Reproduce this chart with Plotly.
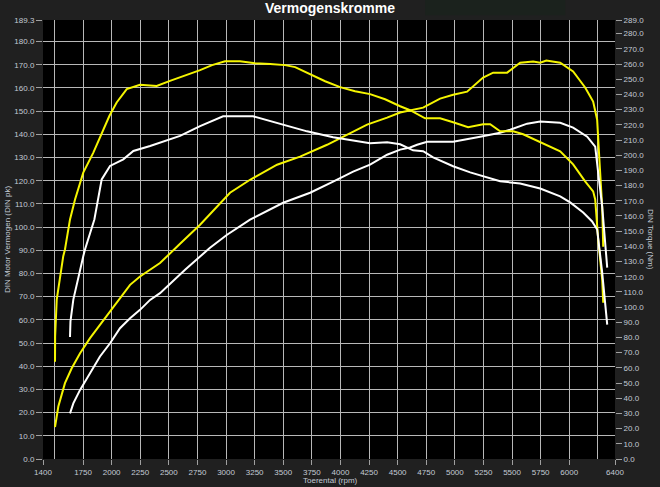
import plotly.graph_objects as go

# ---------------- data ----------------
# Yellow - power (left axis, DIN pk)
y_pow_rpm = [1505, 1534, 1592, 1651, 1724, 1811, 1898, 1986, 2088, 2161, 2248, 2336, 2423, 2598, 2773,
             3035, 3210, 3446, 3647, 3883, 4084, 4233, 4408, 4522, 4723, 4871, 4985, 5107, 5247, 5335,
             5457, 5571, 5685, 5746, 5800, 5921, 6034, 6139, 6209, 6244, 6262, 6288, 6297]
y_pow_val = [13.8, 22.6, 32.7, 39.1, 45.6, 52.1, 57.8, 63.6, 70.8, 75.1, 78.7, 81.6, 84.5, 92.8, 101.0,
             114.8, 120.4, 126.9, 130.4, 135.5, 140.7, 144.2, 147.2, 149.4, 151.5, 155.4, 157.1, 158.4, 164.5, 166.6,
             166.6, 170.9, 171.4, 170.9, 171.8, 170.9, 167.1, 160.2, 154.1, 146.3, 130.4, 108.8, 91.5]

# Yellow - torque (right axis, Nm)
y_tq_rpm = [1505, 1506, 1520, 1549, 1577, 1592, 1636, 1680, 1752, 1840, 1927, 1980, 2044, 2132, 2248,
            2394, 2510, 2598, 2685, 2773, 2878, 2991, 3122, 3253, 3385, 3516, 3604, 3735, 3866, 3997,
            4128, 4259, 4390, 4522, 4609, 4740, 4871, 4985, 5116, 5247, 5309, 5396, 5510, 5597, 5746,
            5921, 6034, 6139, 6209, 6227, 6253, 6288, 6297]
y_tq_val = [64.0, 80.7, 104.9, 120.3, 133.5, 137.9, 157.7, 170.9, 188.5, 201.7, 217.1, 225.8, 234.7, 243.5, 246.3,
            245.6, 248.9, 251.2, 253.4, 256.0, 259.3, 261.9, 261.9, 260.6, 260.0, 259.3, 258.0, 253.4, 248.7, 244.8,
            242.1, 240.2, 236.8, 232.2, 229.6, 224.3, 224.3, 221.7, 218.4, 220.4, 220.4, 215.7, 215.7, 213.8, 208.5,
            202.6, 194.0, 182.8, 176.2, 170.9, 144.5, 118.1, 102.9]

# White - power (left axis, DIN pk)
w_pow_rpm = [1636, 1665, 1724, 1811, 1898, 1986, 2073, 2161, 2248, 2336, 2423, 2642, 2860, 3009, 3210,
             3499, 3735, 3936, 4111, 4259, 4408, 4522, 4609, 4670, 4758, 4985, 5107, 5221, 5396, 5483,
             5632, 5746, 5921, 6034, 6157, 6227, 6253, 6288, 6332]
w_pow_val = [19.7, 24.0, 29.8, 37.0, 44.2, 49.9, 56.4, 60.7, 64.3, 68.6, 71.5, 81.6, 91.1, 96.7, 103.2,
             110.5, 114.8, 119.6, 123.9, 126.9, 131.2, 133.4, 134.3, 135.5, 136.8, 136.8, 138.1, 139.0, 140.7, 142.0,
             144.6, 145.5, 145.0, 142.9, 139.0, 134.7, 123.5, 108.8, 82.5]

# White - torque (right axis, Nm)
w_tq_rpm = [1636, 1640, 1665, 1709, 1752, 1767, 1849, 1913, 1986, 2102, 2190, 2336, 2423, 2598, 2773,
            2974, 3236, 3359, 3499, 3708, 3936, 4084, 4259, 4408, 4522, 4635, 4723, 4810, 4985, 5134,
            5282, 5396, 5571, 5746, 5921, 6008, 6122, 6200, 6244, 6288, 6332]
w_tq_val = [80.3, 90.6, 104.9, 120.3, 133.5, 137.9, 157.7, 184.1, 192.9, 197.3, 202.8, 206.1, 208.3, 212.7, 219.1,
            225.6, 225.6, 223.0, 219.7, 215.7, 211.8, 209.8, 207.8, 208.5, 207.2, 203.2, 202.6, 198.6, 192.7, 188.7,
            185.4, 182.8, 181.4, 178.1, 172.9, 168.9, 162.3, 156.4, 151.1, 122.7, 88.4]

# axis ticks
x_tick_vals = [1400, 1750, 2000, 2250, 2500, 2750, 3000, 3250, 3500, 3750, 4000, 4250, 4500,
               4750, 5000, 5250, 5500, 5750, 6000, 6400]
x_grid_vals = [1500, 1750, 2000, 2250, 2500, 2750, 3000, 3250, 3500, 3750, 4000, 4250, 4500,
               4750, 5000, 5250, 5500, 5750, 6000, 6250]
left_tick_vals = [0, 10, 20, 30, 40, 50, 60, 70, 80, 90, 100, 110, 120, 130, 140, 150, 160, 170, 180, 189.3]
right_tick_vals = list(range(0, 290, 10)) + [289.0]

X_RANGE = [1400, 6400]
LEFT_RANGE = [0, 189.3]
RIGHT_RANGE = [0, 289.0]

# ---------------- styling ----------------
FONT = "Liberation Sans Narrow, Liberation Sans, Arial, sans-serif"
TICK_COLOR = "#c3cad4"
GRID = "#b8b8b8"
YELLOW = "#f5f500"
WHITE = "#ffffff"

fig = go.Figure()
fig.add_trace(go.Scatter(x=y_pow_rpm, y=y_pow_val, mode="lines", line=dict(color=YELLOW, width=2),
                         yaxis="y", name="Vermogen (tuned)"))
fig.add_trace(go.Scatter(x=w_pow_rpm, y=w_pow_val, mode="lines", line=dict(color=WHITE, width=2),
                         yaxis="y", name="Vermogen (stock)"))
fig.add_trace(go.Scatter(x=y_tq_rpm, y=y_tq_val, mode="lines", line=dict(color=YELLOW, width=2),
                         yaxis="y2", name="Torque (tuned)"))
fig.add_trace(go.Scatter(x=w_tq_rpm, y=w_tq_val, mode="lines", line=dict(color=WHITE, width=2),
                         yaxis="y2", name="Torque (stock)"))

fig.update_layout(
    width=660, height=487,
    paper_bgcolor="#202020", plot_bgcolor="#000000",
    margin=dict(l=43, r=45, t=20, b=28),
    showlegend=False,
    title=dict(text="<b>Vermogenskromme</b>", x=0.5, xanchor="center", y=0.984, yanchor="middle",
               font=dict(family="Liberation Sans, Arial, sans-serif", size=14, color="#ffffff")),
    xaxis=dict(range=X_RANGE, tickmode="array", tickvals=x_tick_vals,
               ticktext=[str(v) for v in x_tick_vals], automargin=False,
               showgrid=False, zeroline=False, ticks="outside", ticklen=5, tickcolor="#a0a0a0",
               tickfont=dict(family=FONT, size=8, color=TICK_COLOR),
               minor=dict(tickmode="array", tickvals=x_grid_vals, showgrid=True, gridcolor=GRID,
                          gridwidth=1, ticks=""),
               showline=False),
    yaxis=dict(range=LEFT_RANGE, tickmode="array", tickvals=left_tick_vals,
               ticktext=["%.1f" % v for v in left_tick_vals], automargin=False,
               showgrid=True, gridcolor=GRID, gridwidth=1, zeroline=False,
               ticks="outside", ticklen=6, tickcolor="#a0a0a0",
               tickfont=dict(family=FONT, size=8, color=TICK_COLOR), showline=False),
    yaxis2=dict(range=RIGHT_RANGE, overlaying="y", side="right", tickmode="array",
                tickvals=right_tick_vals, ticktext=["%.1f" % v for v in right_tick_vals],
                automargin=False,
                showgrid=False, zeroline=False, ticks="outside", ticklen=6, tickcolor="#a0a0a0",
                tickfont=dict(family=FONT, size=8, color=TICK_COLOR), showline=False),
    shapes=[dict(type="rect", xref="paper", yref="paper", x0=0.668, x1=0.913, y0=1.011, y1=1.046,
                 fillcolor="#1b221d", line=dict(width=0), layer="below")],
    annotations=[
        dict(text="DIN Motor Vermogen (DIN pk)", xref="paper", yref="paper", x=-0.061, y=0.499,
             xanchor="center", yanchor="middle", textangle=-90, showarrow=False,
             font=dict(family=FONT, size=8, color=TICK_COLOR)),
        dict(text="DIN Torque (Nm)", xref="paper", yref="paper", x=1.061, y=0.499,
             xanchor="center", yanchor="middle", textangle=90, showarrow=False,
             font=dict(family=FONT, size=8, color=TICK_COLOR)),
        dict(text="Toerental (rpm)", xref="paper", yref="paper", x=0.502, y=-0.05,
             xanchor="center", yanchor="middle", showarrow=False,
             font=dict(family=FONT, size=8, color=TICK_COLOR)),
    ],
)

fig.write_html("out.html", config={"displayModeBar": False},
               post_script="document.body.style.margin='0';document.body.style.background='#202020';")
